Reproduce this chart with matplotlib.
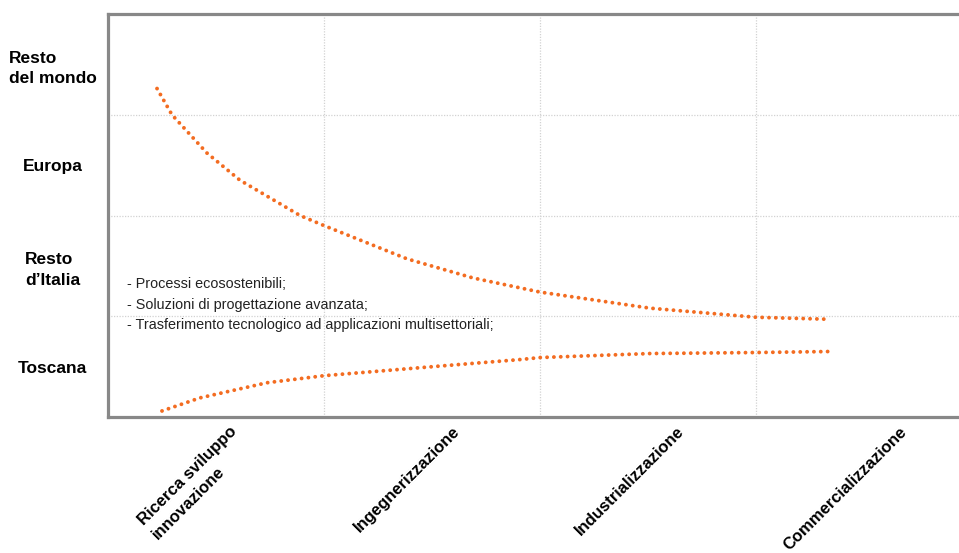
import matplotlib
matplotlib.use("Agg")
import matplotlib.pyplot as plt
import numpy as np


# =========================
# Data
# =========================

stages = [
    "Ricerca sviluppo\ninnovazione",
    "Ingegnerizzazione",
    "Industrializzazione",
    "Commercializzazione",
]

areas = ["Toscana", "Resto\nd\u2019Italia", "Europa", "Resto\ndel mondo"]

notes = [
    "- Processi ecosostenibili;",
    "- Soluzioni di progettazione avanzata;",
    "- Trasferimento tecnologico ad applicazioni multisettoriali;",
]

# upper curve (market reach falling along the chain)
upper_x = [0.227, 0.296, 0.458, 0.611, 0.889, 1.0, 1.384, 1.69, 2.0, 2.51, 3.0, 3.34]
upper_y = [3.26, 3.0, 2.62, 2.35, 2.0, 1.90, 1.57, 1.38, 1.24, 1.08, 0.99, 0.97]

# lower curve (Toscana share rising along the chain)
lower_x = [0.25, 0.426, 0.736, 1.0, 1.505, 1.907, 2.0, 2.51, 3.0, 3.34]
lower_y = [0.06, 0.19, 0.34, 0.41, 0.50, 0.57, 0.59, 0.63, 0.64, 0.65]


# =========================
# Style
# =========================

plt.rcParams["font.family"] = ["Liberation Sans", "DejaVu Sans"]

ORANGE = "#f36c21"
SPINE = "#888888"
GRID = "#d2d2d2"


# =========================
# Plot
# =========================

fig = plt.figure(figsize=(9.59, 5.53), dpi=100)
ax = fig.add_axes([108 / 959, 136 / 553, 851 / 959, 403 / 553])

ax.set_xlim(0, 851 / 216)
ax.set_ylim(0, 4)

for xs, ys in [(upper_x, upper_y), (lower_x, lower_y)]:
    line, = ax.plot(xs, ys, color=ORANGE, linewidth=2.8,
                    solid_capstyle="round", dash_capstyle="round")
    line.set_dashes((0.01, 1.75))

# spines
ax.spines["right"].set_visible(False)
for side in ["left", "top", "bottom"]:
    ax.spines[side].set_color(SPINE)
    ax.spines[side].set_linewidth(2.3)

# grid on minor ticks
ax.set_xticks([1, 2, 3], minor=True)
ax.set_yticks([1, 2, 3], minor=True)
ax.grid(which="minor", color=GRID, linestyle=(0, (1, 1.2)), linewidth=0.9)
ax.set_axisbelow(True)

# category labels
ax.set_yticks(np.arange(len(areas)) + 0.5)
ax.set_yticklabels(areas, fontsize=12.5, fontweight="bold", linespacing=1.45)
for lab in ax.get_yticklabels():
    lab.set_ha("center")
    lab.set_multialignment("left")
ax.tick_params(axis="y", which="both", length=0, pad=40)

ax.set_xticks(0.56 + np.arange(len(stages)) * 1.035)
ax.set_xticklabels(stages, fontsize=12, fontweight="bold",
                   rotation=45, ha="right", va="top", linespacing=1.4,
                   rotation_mode="anchor", multialignment="left")
ax.tick_params(axis="x", which="both", length=0, pad=5)

# bullet notes
for i, txt in enumerate(notes):
    ax.text(0.088, 1.32 - i * 0.205, txt, fontsize=10.4, color="#222222",
            ha="left", va="center")

fig.savefig("out.png", dpi=100)
